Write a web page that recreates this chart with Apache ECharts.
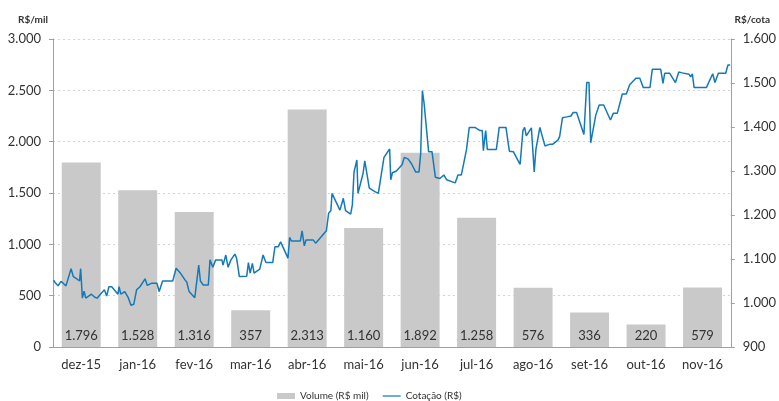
<html>
  <head>
    <meta charset="utf-8" />
    <title>Volume e cotação</title>
    <script src="https://cdn.jsdelivr.net/npm/echarts@6/dist/echarts.min.js"></script>
  </head>
  <body style="margin:0">
    <div id="chart" style="width:779px;height:401px"></div>
    <script type="text/javascript">
      // categorias (meses) e volume mensal em R$ mil
      var meses = ["dez-15", "jan-16", "fev-16", "mar-16", "abr-16", "mai-16", "jun-16", "jul-16", "ago-16", "set-16", "out-16", "nov-16"];
      var volume = [1796, 1528, 1316, 357, 2313, 1160, 1892, 1258, 576, 336, 220, 579];

      // cotação diária: posição no eixo em meses (0 = início de dez-15) e valor em R$/mil cotas
      var cotacaoMes = [
        0.01, 0.04, 0.07, 0.09, 0.14, 0.18, 0.23, 0.32, 0.36, 0.43, 0.47, 0.49, 0.52, 0.55, 0.58, 0.68, 0.74, 0.78, 0.84, 0.91,
        0.95, 0.99, 1.04, 1.15, 1.17, 1.2, 1.27, 1.33, 1.38, 1.43, 1.48, 1.54, 1.63, 1.67, 1.75, 1.84, 1.88, 1.94, 2.12, 2.18,
        2.25, 2.34, 2.37, 2.41, 2.51, 2.58, 2.61, 2.66, 2.75, 2.78, 2.83, 2.88, 2.99, 3.01, 3.06, 3.1, 3.15, 3.22, 3.25, 3.3,
        3.43, 3.46, 3.49, 3.53, 3.56, 3.66, 3.72, 3.77, 3.89, 3.93, 3.99, 4.03, 4.16, 4.19, 4.22, 4.38, 4.41, 4.45, 4.48, 4.61,
        4.65, 4.84, 4.88, 4.92, 4.94, 5.08, 5.14, 5.18, 5.27, 5.3, 5.33, 5.38, 5.4, 5.49, 5.52, 5.55, 5.6, 5.7, 5.76, 5.86,
        5.96, 5.98, 6.01, 6.08, 6.18, 6.22, 6.29, 6.35, 6.42, 6.48, 6.51, 6.54, 6.57, 6.65, 6.71, 6.77, 6.85, 6.92, 6.97, 7.12,
        7.17, 7.23, 7.32, 7.37, 7.47, 7.56, 7.6, 7.62, 7.66, 7.69, 7.85, 7.9, 8.02, 8.08, 8.15, 8.27, 8.3, 8.32, 8.35, 8.38,
        8.47, 8.52, 8.55, 8.58, 8.62, 8.71, 8.74, 8.8, 8.85, 8.94, 8.97, 9.02, 9.1, 9.17, 9.21, 9.27, 9.4, 9.45, 9.49, 9.52,
        9.61, 9.67, 9.75, 9.87, 9.92, 9.99, 10.08, 10.15, 10.21, 10.32, 10.39, 10.45, 10.57, 10.61, 10.76, 10.8, 10.83, 10.92, 11.02, 11.08,
        11.14, 11.26, 11.29, 11.32, 11.35, 11.57, 11.68, 11.72, 11.78, 11.91, 11.95, 11.99
      ];
      var cotacaoValor = [
        1052, 1046, 1050, 1039, 1049, 1045, 1039, 1078, 1060, 1054, 1050, 1078, 1011, 1027, 1011, 1020, 1013, 1011, 1020, 1030,
        1016, 1037, 1037, 1020, 1037, 1020, 1026, 1013, 995, 997, 1030, 1037, 1055, 1040, 1045, 1045, 1026, 1050, 1050, 1079,
        1069, 1052, 1047, 1026, 1012, 1086, 1050, 1041, 1041, 1098, 1081, 1098, 1098, 1086, 1109, 1081, 1098, 1111, 1102, 1060,
        1061, 1092, 1068, 1090, 1068, 1077, 1109, 1092, 1092, 1128, 1128, 1139, 1102, 1149, 1141, 1141, 1164, 1130, 1143, 1143,
        1136, 1164, 1204, 1210, 1249, 1211, 1238, 1210, 1202, 1223, 1298, 1325, 1249, 1295, 1323, 1321, 1261, 1253, 1249, 1331,
        1350, 1280, 1296, 1300, 1314, 1331, 1327, 1316, 1298, 1298, 1340, 1483, 1454, 1344, 1344, 1286, 1283, 1291, 1280, 1273,
        1291, 1291, 1348, 1399, 1399, 1392, 1392, 1346, 1392, 1349, 1349, 1399, 1399, 1345, 1344, 1315, 1315, 1392, 1399, 1380,
        1398, 1298, 1349, 1349, 1399, 1357, 1354, 1361, 1361, 1370, 1378, 1421, 1423, 1425, 1433, 1433, 1383, 1501, 1501, 1364,
        1427, 1450, 1450, 1416, 1431, 1431, 1475, 1475, 1496, 1511, 1511, 1490, 1490, 1531, 1531, 1499, 1522, 1522, 1501, 1525,
        1523, 1520, 1514, 1521, 1490, 1490, 1521, 1501, 1522, 1522, 1541, 1541
      ];

      // separador de milhar com ponto
      function fmt(v) {
        return String(v).replace(/\B(?=(\d{3})+(?!\d))/g, ".");
      }

      var cotacao = cotacaoMes.map(function(m, i) {
        return [m, cotacaoValor[i]];
      });

      var fonte = "Lato, 'Open Sans', sans-serif";
      var chart = echarts.init(document.getElementById("chart"));
      chart.setOption({
        animation: false,
        textStyle: { fontFamily: fonte },
        grid: { left: 53, right: 48, top: 39, bottom: 54 },
        legend: {
          left: 272,
          top: 386,
          itemWidth: 18,
          itemHeight: 6,
          itemGap: 14,
          textStyle: { fontSize: 10, color: "#333", fontFamily: fonte },
          data: [
            { name: "Volume (R$ mil)", icon: "rect" },
            { name: "Cotação (R$)", icon: "path://M0,0H30V2H0Z" }
          ]
        },
        xAxis: [
          {
            type: "category",
            data: meses,
            axisLine: { lineStyle: { color: "#a0a0a0" } },
            axisTick: { length: 5, lineStyle: { color: "#a0a0a0" } },
            axisLabel: { fontSize: 13, color: "#333", margin: 11, fontFamily: fonte }
          },
          {
            type: "value",
            min: 0,
            max: 12,
            show: false
          }
        ],
        yAxis: [
          {
            type: "value",
            min: 0,
            max: 3000,
            interval: 500,
            name: "R$/mil",
            nameGap: 14,
            nameTextStyle: { fontSize: 10, fontWeight: "bold", color: "#333", padding: [0, 40, 0, 0] },
            axisLine: { show: true, lineStyle: { color: "#a0a0a0" } },
            axisTick: { show: true, length: 4, lineStyle: { color: "#a0a0a0" } },
            axisLabel: { fontSize: 13, color: "#333", margin: 12, formatter: fmt },
            splitLine: { lineStyle: { color: "#d4d4d4", type: [2, 3] } }
          },
          {
            type: "value",
            min: 900,
            max: 1600,
            interval: 100,
            name: "R$/cota",
            nameGap: 14,
            nameTextStyle: { fontSize: 10, fontWeight: "bold", color: "#333", padding: [0, 0, 0, 43] },
            axisLine: { show: true, lineStyle: { color: "#a0a0a0" } },
            axisTick: { show: true, length: 4, lineStyle: { color: "#a0a0a0" } },
            axisLabel: { fontSize: 13, color: "#333", margin: 12, formatter: fmt },
            splitLine: { show: false }
          }
        ],
        series: [
          {
            name: "Volume (R$ mil)",
            type: "bar",
            data: volume,
            barWidth: "69%",
            itemStyle: { color: "#c9c9c9" },
            label: {
              show: true,
              position: "insideBottom",
              distance: 5,
              fontSize: 13,
              color: "#333",
              formatter: function(p) {
                return fmt(p.value);
              }
            }
          },
          {
            name: "Cotação (R$)",
            type: "line",
            xAxisIndex: 1,
            yAxisIndex: 1,
            data: cotacao,
            symbol: "none",
            color: "#1479b8",
            lineStyle: { width: 1.5 }
          }
        ]
      });
    </script>
  </body>
</html>
